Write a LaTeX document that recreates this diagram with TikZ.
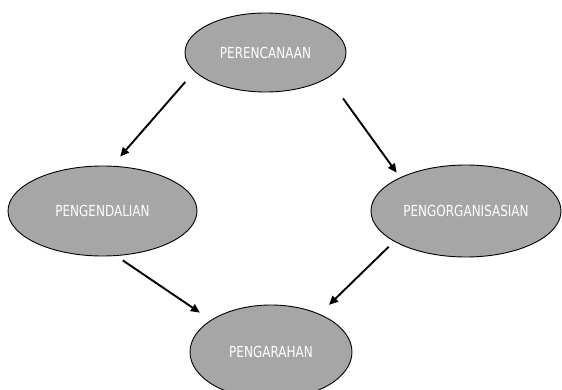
\documentclass[tikz,border=0pt]{standalone}
\usepackage{fontspec}
\newfontfamily\lblfont[FakeStretch=0.79]{DejaVu Sans}
\usetikzlibrary{shapes.geometric,arrows.meta}
\definecolor{ovalfill}{RGB}{166,166,166}
\tikzset{
  oval/.style={ellipse, draw=black, line width=0.9pt, fill=ovalfill, inner sep=0pt,
    text=white, font=\lblfont\fontsize{15.2}{17}\selectfont},
  link/.style={line width=1.9pt, -{Triangle[length=9pt,width=8pt]}}
}
\begin{document}
\begin{tikzpicture}[x=1pt,y=-1pt]
\useasboundingbox (0,0) rectangle (562,390);
\node[oval, minimum width=161pt, minimum height=79pt] (plan) at (265.5,52.5) {PERENCANAAN};
\node[oval, minimum width=189pt, minimum height=90pt] (ctrl) at (102.5,211) {PENGENDALIAN};
\node[oval, minimum width=190pt, minimum height=92pt] (org) at (466,211) {PENGORGANISASIAN};
\node[oval, minimum width=162pt, minimum height=94pt] (dir) at (271,352) {PENGARAHAN};
\draw[link, shorten <=13.8pt, shorten >=12.3pt] (plan.195.2) -- (ctrl.78.2);
\draw[link, shorten <=25.4pt, shorten >=5.8pt] (plan.338.5) -- (org.153.1);
\draw[link, shorten <=7.9pt, shorten >=13.2pt] (ctrl.287.4) -- (dir.152.3);
\draw[link, shorten <=7.5pt, shorten >=13pt] (org.203.6) -- (dir.38.6);
\end{tikzpicture}
\end{document}
